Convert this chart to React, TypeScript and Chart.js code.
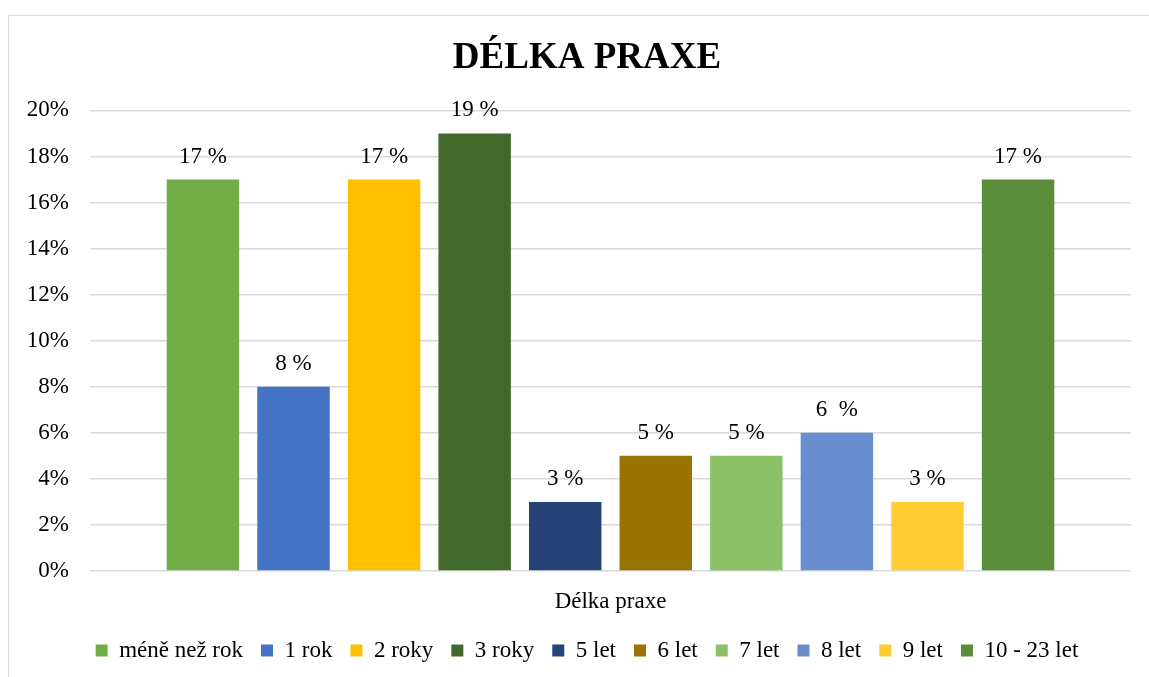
import React, { useEffect, useRef } from "react";
import { Chart, registerables } from "chart.js";

Chart.register(...registerables);

const FONT = '"Liberation Serif", "Times New Roman", serif';

const categories = ["Délka praxe"];
const seriesNames = [
  "méně než rok",
  "1 rok",
  "2 roky",
  "3 roky",
  "5 let",
  "6 let",
  "7 let",
  "8 let",
  "9 let",
  "10 - 23 let",
];
const seriesValues = [17, 8, 17, 19, 3, 5, 5, 6, 3, 17];
const valueLabels = ["17 %", "8 %", "17 %", "19 %", "3 %", "5 %", "5 %", "6  %", "3 %", "17 %"];
const seriesColors = [
  "#70AD47",
  "#4472C4",
  "#FFC000",
  "#43682B",
  "#264478",
  "#997300",
  "#8CC168",
  "#698ED0",
  "#FFCD33",
  "#5B8C39",
];
const yMax = 20;
const yStep = 2;
const chartTitle = "DÉLKA PRAXE";

const dataLabelPlugin = {
  id: "dataLabels",
  afterDatasetsDraw(chart: any) {
    const ctx = chart.ctx;
    ctx.save();
    ctx.font = `23px ${FONT}`;
    ctx.fillStyle = "#000";
    ctx.textAlign = "center";
    ctx.textBaseline = "middle";
    chart.data.datasets.forEach((_ds: any, i: number) => {
      const meta = chart.getDatasetMeta(i);
      meta.data.forEach((el: any) => {
        ctx.fillText(valueLabels[i], el.x, el.y - 23);
      });
    });
    ctx.restore();
  },
};

export default function App() {
  const canvasRef = useRef<HTMLCanvasElement | null>(null);

  useEffect(() => {
    if (!canvasRef.current) return;
    const chart = new Chart(canvasRef.current, {
      type: "bar",
      data: {
        labels: categories,
        datasets: seriesNames.map((name, i) => ({
          label: name,
          data: [seriesValues[i]],
          backgroundColor: seriesColors[i],
          borderWidth: 0,
          categoryPercentage: 0.87,
          barPercentage: 0.8,
          yAxisID: "y",
        })),
      },
      options: {
        animation: false,
        responsive: false,
        maintainAspectRatio: false,
        layout: { padding: { left: 0, right: 0, top: 0, bottom: 14 } },
        scales: {
          x: {
            grid: { display: false, drawTicks: false },
            border: { display: false },
            ticks: { color: "#000", font: { family: FONT, size: 23 }, padding: 17 },
            afterFit: (scale: any) => {
              scale.height = 50;
            },
          },
          y: {
            min: 0,
            max: yMax,
            ticks: {
              stepSize: yStep,
              color: "#000",
              font: { family: FONT, size: 23 },
              padding: 21,
              callback: (v: any) => `${v}%`,
            },
            grid: { color: "#D9D9D9", lineWidth: 1.5, drawTicks: false },
            border: { display: false },
            afterFit: (scale: any) => {
              scale.width = 81;
            },
          },
          yRight: {
            position: "right",
            min: 0,
            max: yMax,
            ticks: { display: false },
            grid: { display: false, drawTicks: false },
            border: { display: false },
            afterFit: (scale: any) => {
              scale.width = 34;
            },
          },
        },
        plugins: {
          title: {
            display: true,
            text: chartTitle,
            color: "#000",
            font: { family: FONT, size: 37, weight: "bold" },
            padding: { top: 20, bottom: 30 },
          },
          legend: {
            position: "bottom",
            labels: {
              color: "#000",
              font: { family: FONT, size: 23 },
              boxWidth: 12,
              boxHeight: 12,
              padding: 18,
            },
          },
          tooltip: { enabled: false },
        },
      },
      plugins: [dataLabelPlugin],
    });
    return () => chart.destroy();
  }, []);

  return (
    <div
      style={{
        position: "absolute",
        left: 8,
        top: 15,
        width: 1141,
        height: 662,
        overflow: "hidden",
      }}
    >
      <div
        style={{
          width: 1158,
          height: 680,
          border: "1px solid #D9D9D9",
          boxSizing: "border-box",
          background: "#fff",
        }}
      >
        <canvas ref={canvasRef} width={1156} height={670} style={{ display: "block" }} />
      </div>
    </div>
  );
}
